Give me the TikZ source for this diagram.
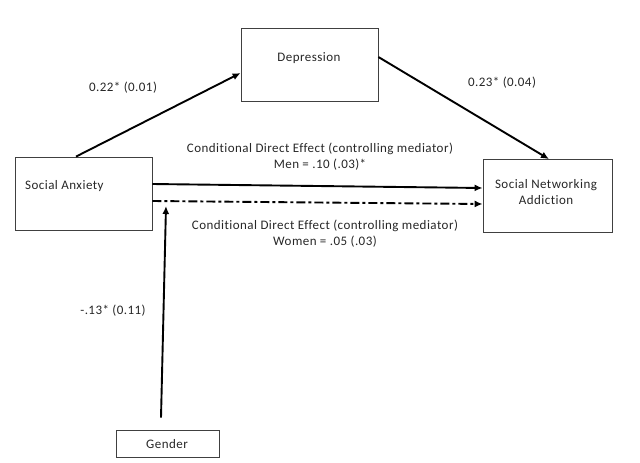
\documentclass[tikz,border=0pt]{standalone}
\usepackage{fontspec}
\setmainfont[LetterSpace=3.5,RawFeature={-liga;-dlig}]{Carlito}
\usetikzlibrary{arrows.meta}
\begin{document}
\begin{tikzpicture}[x=1pt,y=-1pt,
  box/.style={draw=black!75,line width=0.8pt,inner sep=0pt},
  txt/.style={font=\fontsize{13}{16}\selectfont,text=black!85,inner sep=0pt},
  conn/.style={line width=1.9pt,-{Latex[length=8pt,width=7pt]}}]
\useasboundingbox (0,0) rectangle (640,463);
% boxes
\node[box,minimum width=137pt,minimum height=73pt] (dep) at (309.5,64.5) {};
\node[box,minimum width=137pt,minimum height=73pt] (sa) at (83.5,193.5) {};
\node[box,minimum width=129pt,minimum height=73pt] (sna) at (547.5,196) {};
\node[box,minimum width=103pt,minimum height=27pt] (gen) at (167.5,443.5) {};
% box texts
\node[txt] (tdep) at (309,58) {Depression};
\node[txt,anchor=west] (tsa) at (25,186) {Social Anxiety};
\node[txt,align=center] (tsna) at (546,192) {Social Networking\\Addiction};
\node[txt] (tgen) at (167,444) {Gender};
% anchor coordinates
\coordinate (saTop) at ([xshift=-7.5pt]sa.north);
\coordinate (depL) at ([yshift=-8.5pt]dep.west);
\coordinate (depR) at ([yshift=7.5pt]dep.east);
\coordinate (snaTop) at ([xshift=1.5pt]sna.north);
\coordinate (saR1) at ([yshift=9.5pt]sa.east);
\coordinate (snaL1) at ([yshift=8pt]sna.west);
\coordinate (saR2) at ([yshift=-7.5pt]sa.east);
\coordinate (snaL2) at ([yshift=-8pt]sna.west);
\coordinate (genTop) at ([xshift=-6.5pt,yshift=12pt]gen.north);
\coordinate (genEnd) at (166,206);
% connectors
\draw[conn] (saTop) -- (depL);
\draw[conn] (depR) -- (snaTop);
\draw[conn] (saR1) -- (snaL1);
\draw[conn,dash pattern=on 9pt off 3pt on 3pt off 3pt] (saR2) -- (snaL2);
\draw[conn] (genTop) -- (genEnd);
% labels
\node[txt] (l1) at (123,88) {0.22* (0.01)};
\node[txt] (l2) at (502,83) {0.23* (0.04)};
\node[txt,align=center] (l3) at (320,157) {Conditional Direct Effect (controlling mediator)\\Men = .10 (.03)*};
\node[txt,align=center] (l4) at (325,234) {Conditional Direct Effect (controlling mediator)\\Women = .05 (.03)};
\node[txt] (l5) at (113,311) {-.13* (0.11)};
\end{tikzpicture}
\end{document}
